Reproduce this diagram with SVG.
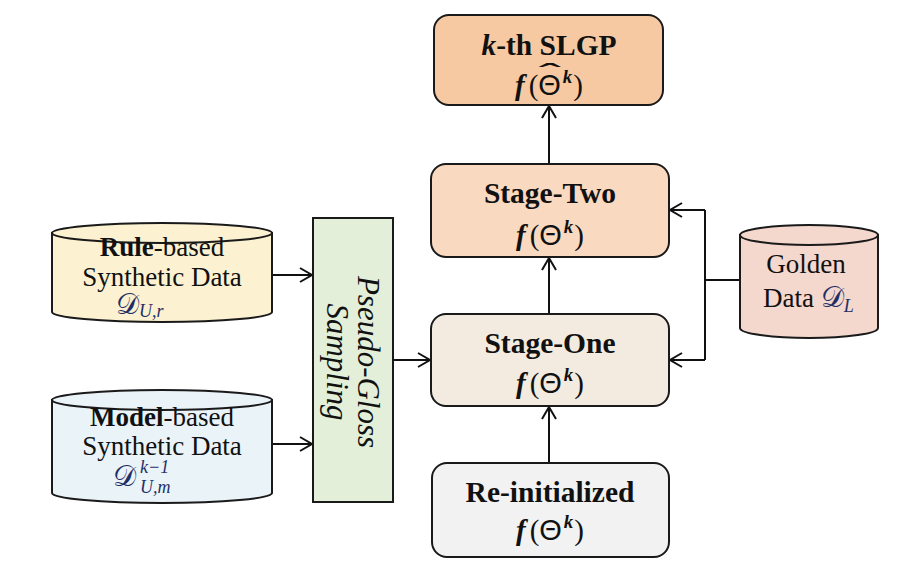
<svg xmlns="http://www.w3.org/2000/svg" width="922" height="576" viewBox="0 0 922 576">
<defs>
<marker id="arr" viewBox="-14 -9 16 18" refX="0" refY="0" markerWidth="16" markerHeight="18" markerUnits="userSpaceOnUse" orient="auto">
<path d="M-12,-7 L0,0 L-12,7" fill="none" stroke="#111" stroke-width="2"/>
</marker>
<style>
.box{stroke:#1a1a1a;stroke-width:2}
.conn{fill:none;stroke:#111;stroke-width:2}
.t{font-family:"Liberation Serif","Times New Roman",serif;fill:#111}
.title{font-size:29.5px;font-weight:bold;text-anchor:middle}
.cyl{font-size:27px;text-anchor:middle}
.bi{font-weight:bold;font-style:italic}
.th{font-family:"Liberation Sans",Arial,sans-serif;font-weight:normal}
.m{fill:#1f2f66;font-style:italic}
.d{fill:#1f2f66;font-style:normal}
</style>
</defs>
<rect width="922" height="576" fill="#ffffff"/>

<g id="connectors">
<line class="conn" x1="272" y1="275" x2="312" y2="275" marker-end="url(#arr)"/>
<line class="conn" x1="272" y1="444" x2="312" y2="444" marker-end="url(#arr)"/>
<line class="conn" x1="393" y1="360" x2="430" y2="360" marker-end="url(#arr)"/>
<line class="conn" x1="549" y1="463" x2="549" y2="407" marker-end="url(#arr)"/>
<line class="conn" x1="549" y1="314" x2="549" y2="258" marker-end="url(#arr)"/>
<line class="conn" x1="549" y1="164" x2="549" y2="106" marker-end="url(#arr)"/>
<line class="conn" x1="740" y1="280" x2="705" y2="280"/>
<polyline class="conn" points="705,210 705,360"/>
<line class="conn" x1="705" y1="210" x2="670" y2="210" marker-end="url(#arr)"/>
<line class="conn" x1="705" y1="360" x2="670" y2="360" marker-end="url(#arr)"/>
</g>

<g id="rule-data">
<path class="box" fill="#fcf2d1" d="M52,233 V312 A110,10 0 0 0 272,312 V233 Z"/>
<ellipse class="box" fill="#fcf2d1" cx="162" cy="233" rx="110" ry="10"/>
<text class="t cyl" x="162" y="256"><tspan font-weight="bold">Rule</tspan>-based</text>
<text class="t cyl" x="162" y="286">Synthetic Data</text>
<text class="t" x="116" y="314" font-size="29"><tspan class="d">𝒟</tspan><tspan class="m" font-size="18" dy="3">U,r</tspan></text>
</g>

<g id="model-data">
<path class="box" fill="#eaf3f8" d="M52,400 V493 A110,10 0 0 0 272,493 V400 Z"/>
<ellipse class="box" fill="#eaf3f8" cx="162" cy="400" rx="110" ry="10"/>
<text class="t cyl" x="162" y="426"><tspan font-weight="bold">Model</tspan>-based</text>
<text class="t cyl" x="162" y="455">Synthetic Data</text>
<text class="t" x="113" y="486" font-size="29"><tspan class="d">𝒟</tspan></text>
<text class="t m" x="140" y="473" font-size="18">k−1</text>
<text class="t m" x="140" y="493" font-size="18">U,m</text>
</g>

<g id="pseudo-gloss">
<rect class="box" fill="#e3efd9" x="313" y="218" width="80" height="284"/>
<text class="t" font-size="31" font-style="italic" text-anchor="middle" transform="translate(358,362) rotate(90)">Pseudo-Gloss</text>
<text class="t" font-size="31" font-style="italic" text-anchor="middle" transform="translate(327,362) rotate(90)">Sampling</text>
</g>

<g id="golden-data">
<path class="box" fill="#f4d7cd" d="M740,235 V328 A69,10 0 0 0 878,328 V235 Z"/>
<ellipse class="box" fill="#f4d7cd" cx="809" cy="235" rx="69" ry="10"/>
<text class="t cyl" x="806" y="273">Golden</text>
<text class="t" x="763" y="307" font-size="27">Data <tspan class="d" font-size="29">𝒟</tspan><tspan class="m" font-size="18" dy="5">L</tspan></text>
</g>

<g id="slgp">
<rect class="box" fill="#f6c9a3" x="434" y="15" width="229" height="90" rx="15"/>
<text class="t title" x="549" y="55"><tspan class="bi">k</tspan>-th SLGP</text>
<text class="t" x="549" y="95" font-size="29" text-anchor="middle"><tspan class="bi">f</tspan><tspan dx="4">(</tspan><tspan class="th">Θ</tspan><tspan class="bi" font-size="19" dy="-12" dx="2">k</tspan><tspan dy="12" dx="1">)</tspan></text>
<text class="t th" font-size="29" text-anchor="middle" transform="translate(550,0) scale(2.3,1)" x="0" y="84">ˆ</text>
</g>

<g id="stage-two">
<rect class="box" fill="#f9d9bf" x="431" y="164" width="238" height="93" rx="15"/>
<text class="t title" x="550" y="203">Stage-Two</text>
<text class="t" x="550" y="245" font-size="29" text-anchor="middle"><tspan class="bi">f</tspan><tspan dx="4">(</tspan><tspan class="th">Θ</tspan><tspan class="bi" font-size="19" dy="-12" dx="2">k</tspan><tspan dy="12" dx="1">)</tspan></text>
</g>

<g id="stage-one">
<rect class="box" fill="#f4ebe0" x="431" y="314" width="238" height="92" rx="15"/>
<text class="t title" x="550" y="353">Stage-One</text>
<text class="t" x="550" y="393" font-size="29" text-anchor="middle"><tspan class="bi">f</tspan><tspan dx="4">(</tspan><tspan class="th">Θ</tspan><tspan class="bi" font-size="19" dy="-12" dx="2">k</tspan><tspan dy="12" dx="1">)</tspan></text>
</g>

<g id="re-initialized">
<rect class="box" fill="#f2f2f2" x="432" y="463" width="237" height="94" rx="15"/>
<text class="t title" x="550" y="502">Re-initialized</text>
<text class="t" x="550" y="540" font-size="29" text-anchor="middle"><tspan class="bi">f</tspan><tspan dx="4">(</tspan><tspan class="th">Θ</tspan><tspan class="bi" font-size="19" dy="-12" dx="2">k</tspan><tspan dy="12" dx="1">)</tspan></text>
</g>
</svg>
